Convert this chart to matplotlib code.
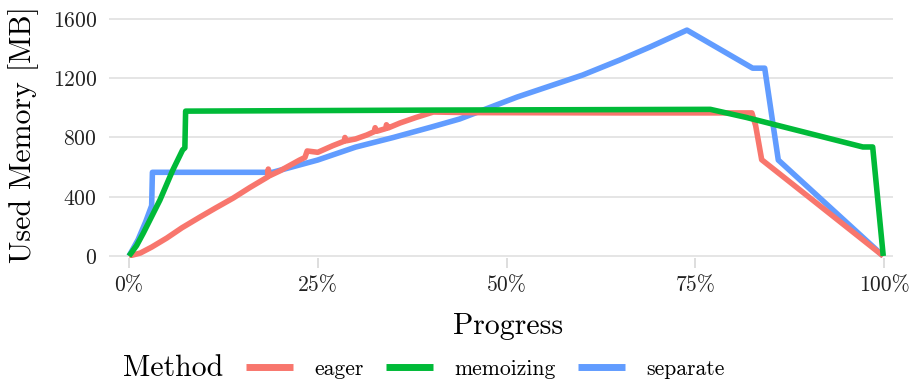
#!/usr/bin/env python3

import matplotlib.pyplot as plt
from matplotlib.lines import Line2D
from matplotlib.ticker import FuncFormatter

plt.rcParams['font.family'] = ['cmr10', 'DejaVu Serif']
plt.rcParams['mathtext.fontset'] = 'cm'
plt.rcParams['axes.formatter.use_mathtext'] = True

# Progress (fraction) vs used memory (MB)
eager_x = [0.0, 0.015, 0.03, 0.05, 0.07, 0.094, 0.115, 0.138, 0.16, 0.1835, 0.1845,
           0.1855, 0.2, 0.226, 0.233, 0.236, 0.25, 0.27, 0.285, 0.286, 0.288, 0.30,
           0.315, 0.325, 0.326, 0.328, 0.34, 0.341, 0.343, 0.359, 0.38, 0.403,
           0.45, 0.55, 0.65, 0.75, 0.825, 0.83, 0.838, 0.90, 0.999]
eager_y = [0, 20, 60, 121, 190, 263, 325, 391, 462, 533, 587,
           540, 575, 648, 665, 709, 700, 745, 775, 800, 778, 790,
           817, 840, 866, 842, 860, 886, 864, 898, 935, 972,
           968, 967, 966, 966, 966, 880, 650, 400, 0]

memo_x = [0.0, 0.01, 0.019, 0.041, 0.058, 0.071, 0.074, 0.075, 0.40, 0.77,
          0.818, 0.972, 0.985, 0.999]
memo_y = [0, 70, 155, 378, 580, 716, 730, 978, 985, 990,
          935, 736, 736, 0]

sep_x = [0.0, 0.012, 0.022, 0.03, 0.031, 0.19, 0.25, 0.30, 0.35, 0.40, 0.438,
         0.514, 0.601, 0.65, 0.69, 0.739, 0.826, 0.842, 0.86, 0.999]
sep_y = [0, 110, 230, 340, 565, 565, 648, 735, 800, 870, 925,
         1073, 1222, 1323, 1411, 1525, 1268, 1268, 648, 0]

methods = ['eager', 'memoizing', 'separate']
colors = ['#F8766D', '#00BA38', '#619CFF']

x_ticks = [0, 0.25, 0.5, 0.75, 1.0]
y_ticks = [0, 400, 800, 1200, 1600]

W, H = 913, 383
fig = plt.figure(figsize=(W / 100, H / 100), dpi=100)
ax = fig.add_axes([109 / W, 1 - 258 / H, 784 / W, 246 / H])

lw = 4.0
ax.plot(sep_x, sep_y, color=colors[2], lw=lw, solid_capstyle='butt', zorder=2)
ax.plot(eager_x, eager_y, color=colors[0], lw=lw, solid_capstyle='butt', zorder=3)
ax.plot(memo_x, memo_y, color=colors[1], lw=lw, solid_capstyle='butt', zorder=4)

ax.set_xlim(-20 / 755, 1 + 9 / 755)
ax.set_ylim(-2 * 6.75, 1600 + 7 * 6.75)
ax.set_xticks(x_ticks)
ax.set_yticks(y_ticks)
ax.xaxis.set_major_formatter(FuncFormatter(lambda v, p: f'{int(round(v * 100))}%'))

ax.grid(axis='y', color='#dedede', linewidth=1.1)
ax.set_axisbelow(True)
for s in ax.spines.values():
    s.set_visible(False)
ax.tick_params(axis='x', length=7, width=1.1, color='#d4d4d4', pad=6,
               labelsize=15.6, labelcolor='#222222')
ax.tick_params(axis='y', length=0, pad=8.6, labelsize=15.6, labelcolor='#222222')

fig.text(24 / W, 1 - 135 / H, 'Used Memory [MB]', rotation=90, ha='center',
         va='center', fontsize=21.5)
fig.text(508 / W, 1 - 326 / H, 'Progress', ha='center', va='center', fontsize=21.5)

# legend at the bottom, title on the left
fig.text(123 / W, 1 - 368 / H, 'Method', ha='left', va='center', fontsize=21.5)
handles = [Line2D([], [], color=c, lw=5, solid_capstyle='butt') for c in colors]
fig.legend(handles, methods, loc='center left', bbox_to_anchor=(246 / W, 1 - 369 / H),
           ncol=3, frameon=False, fontsize=15.6, handlelength=2.17,
           handletextpad=0.97, columnspacing=1.05, borderaxespad=0, borderpad=0)

plt.savefig('out.png', dpi=100)
